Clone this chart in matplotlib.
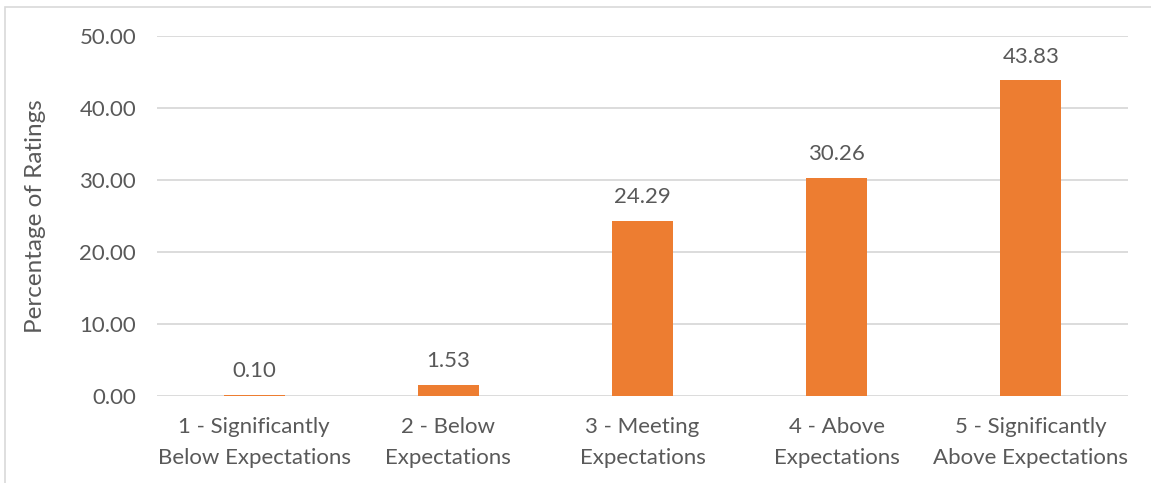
import matplotlib
matplotlib.use("Agg")
import matplotlib.pyplot as plt
from matplotlib.patches import Rectangle
import numpy as np

# Data
categories = ["1 - Significantly\nBelow Expectations", "2 - Below\nExpectations",
              "3 - Meeting\nExpectations", "4 - Above\nExpectations",
              "5 - Significantly\nAbove Expectations"]
values = [0.10, 1.53, 24.29, 30.26, 43.83]
y_ticks = [0, 10, 20, 30, 40, 50]

bar_color = "#ED7D31"
text_color = "#595959"
grid_color = "#D9D9D9"

plt.rcParams['font.family'] = ['Lato', 'DejaVu Sans']

fig = plt.figure(figsize=(11.51, 4.83), dpi=100)
ax = fig.add_axes([157/1151, 1-396/483, (1128-157)/1151, (396-36)/483])

# chart border (clipped by figure edge on right/bottom)
fig.patches.append(Rectangle((5/1151, -0.1), 1.1, 1-7/483+0.1, transform=fig.transFigure,
                             fill=False, edgecolor=grid_color, linewidth=1.2))

x = np.arange(len(categories))
bars = ax.bar(x, values, width=0.315, color=bar_color, zorder=3)

for xi, v in zip(x, values):
    ax.annotate(f"{v:.2f}", (xi, v), xytext=(0, 10), textcoords="offset points",
                ha="center", va="bottom", fontsize=16, color=text_color)

ax.set_xlim(-0.5, len(categories) - 0.5)
ax.set_ylim(0, 50)
ax.set_yticks(y_ticks)
ax.set_yticklabels([f"{t:.2f}" for t in y_ticks])
ax.set_xticks(x)
ax.set_xticklabels(categories, linespacing=1.68)
ax.tick_params(axis='both', length=0, labelsize=16, colors=text_color)
ax.tick_params(axis='y', pad=15)
ax.tick_params(axis='x', pad=15)
ax.yaxis.grid(True, color=grid_color, linewidth=1.3, zorder=0)
for s in ax.spines.values():
    s.set_visible(False)
ax.set_ylabel("Percentage of Ratings", fontsize=17.5, color=text_color, labelpad=24)

fig.savefig("out.png", dpi=100)
